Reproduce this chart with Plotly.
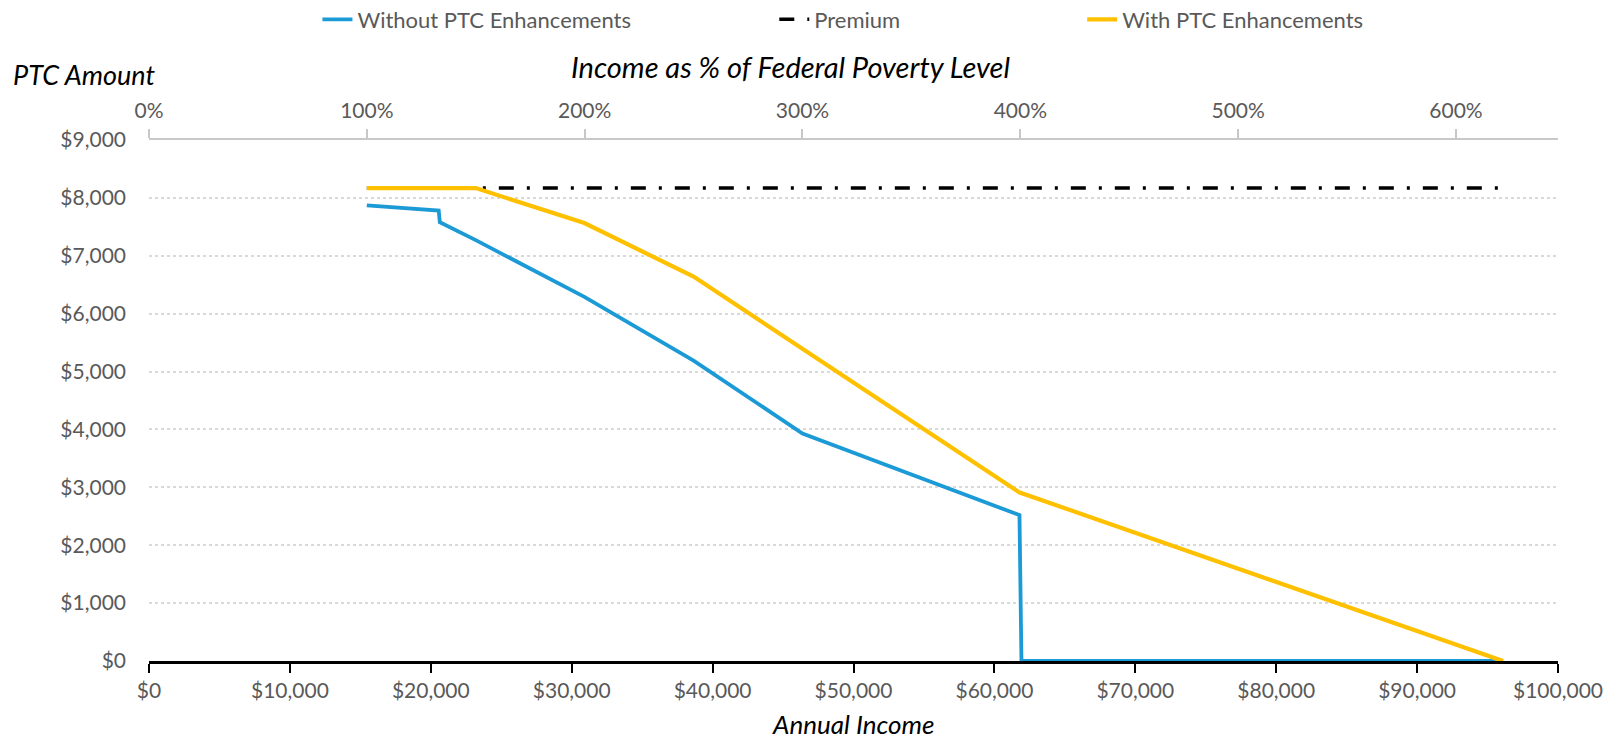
import plotly.graph_objects as go

# ---- data ----
FPL = 15460  # dollars per 100% of Federal Poverty Level

without_income = [15460, 20560, 20640, 23190, 30900, 38650, 46380, 61780, 61920, 96100]
without_ptc    = [7870,  7780,  7580,  7270,  6290,  5190,  3930,  2520,  0,     0]

premium_income = [15460, 96100]
premium_value  = [8170,  8170]

with_income = [15460, 23190, 30900, 38650, 61750, 96100]
with_ptc    = [8170,  8170,  7565,  6640,  2915,  0]

x_ticks = [0, 10000, 20000, 30000, 40000, 50000, 60000, 70000, 80000, 90000, 100000]
x_labels = ["$0", "$10,000", "$20,000", "$30,000", "$40,000", "$50,000", "$60,000",
            "$70,000", "$80,000", "$90,000", "$100,000"]
y_ticks = [0, 1000, 2000, 3000, 4000, 5000, 6000, 7000, 8000, 9000]
y_labels = ["$0", "$1,000", "$2,000", "$3,000", "$4,000", "$5,000", "$6,000",
            "$7,000", "$8,000", "$9,000"]
fpl_ticks = [0, 100, 200, 300, 400, 500, 600]
fpl_labels = ["0%", "100%", "200%", "300%", "400%", "500%", "600%"]

BLUE = "#1B9AD6"
GOLD = "#FFC000"
GREY_TXT = "#595959"
FONT = "Lato, 'Liberation Sans', sans-serif"

fig = go.Figure()

fig.add_trace(go.Scatter(
    x=without_income, y=without_ptc, mode="lines", name="Without PTC Enhancements",
    line=dict(color=BLUE, width=3.8), legend="legend"))
fig.add_trace(go.Scatter(
    x=premium_income, y=premium_value, mode="lines", name="Premium",
    line=dict(color="black", width=3.6, dash="15px,13px,3px,13px"), legend="legend2"))
fig.add_trace(go.Scatter(
    x=with_income, y=with_ptc, mode="lines", name="With PTC Enhancements",
    line=dict(color=GOLD, width=4.2), legend="legend3"))
# invisible trace to anchor the top (FPL %) axis
fig.add_trace(go.Scatter(
    x=fpl_ticks, y=[None] * len(fpl_ticks), xaxis="x2", mode="lines",
    showlegend=False, hoverinfo="skip"))

legend_common = dict(orientation="h", yref="container", y=0.9737, yanchor="middle",
                     xanchor="left", bgcolor="rgba(0,0,0,0)",
                     font=dict(family=FONT, size=22, color=GREY_TXT))

fig.update_layout(
    width=1606, height=741,
    margin=dict(l=148.5, r=48, t=140.3, b=80.4, pad=0, autoexpand=False),
    paper_bgcolor="white", plot_bgcolor="white",
    font=dict(family=FONT, color=GREY_TXT),
    legend=dict(x=(317 - 148.5) / 1409.5, **legend_common),
    legend2=dict(x=(774 - 148.5) / 1409.5, **legend_common),
    legend3=dict(x=(1082 - 148.5) / 1409.5, **legend_common),
    xaxis=dict(
        range=[0, 100000], tickvals=x_ticks, ticktext=x_labels,
        showgrid=False, zeroline=False, automargin=False,
        showline=True, linecolor="black", linewidth=2.5,
        ticks="outside", ticklen=9, tickwidth=2, tickcolor="black",
        tickfont=dict(family=FONT, size=21, color=GREY_TXT),
        layer="below traces",
    ),
    xaxis2=dict(
        range=[0, 100000 / FPL * 100], overlaying="x", side="top",
        tickvals=fpl_ticks, ticktext=fpl_labels, automargin=False,
        showgrid=False, zeroline=False,
        showline=True, linecolor="#C8C8C8", linewidth=2,
        ticks="outside", ticklen=9, tickwidth=1.5, tickcolor="#C8C8C8",
        tickfont=dict(family=FONT, size=21, color=GREY_TXT),
        ticklabelstandoff=3,
        layer="below traces",
    ),
    yaxis=dict(
        range=[0, 9000], tickvals=y_ticks, ticktext=y_labels, automargin=False,
        showgrid=True, gridcolor="#D9D9D9", gridwidth=2, griddash="dot",
        zeroline=False, showline=False, ticks="",
        tickfont=dict(family=FONT, size=21, color=GREY_TXT),
        ticklabelstandoff=22,
    ),
    annotations=[
        dict(text="<i>PTC Amount</i>", xref="paper", yref="paper",
             x=(10 - 148.5) / 1409.5, y=(660.6 - 74.8) / 520.3,
             xanchor="left", yanchor="middle", showarrow=False,
             font=dict(family=FONT, size=27, color="black")),
        dict(text="<i>Income as % of Federal Poverty Level</i>", xref="paper", yref="paper",
             x=(790 - 148.5) / 1409.5, y=(660.6 - 66.5) / 520.3,
             xanchor="center", yanchor="middle", showarrow=False,
             font=dict(family=FONT, size=29, color="black")),
        dict(text="<i>Annual Income</i>", xref="paper", yref="paper",
             x=(853 - 148.5) / 1409.5, y=(660.6 - 724) / 520.3,
             xanchor="center", yanchor="middle", showarrow=False,
             font=dict(family=FONT, size=26, color="black")),
    ],
)

fig.write_html("out.html")
